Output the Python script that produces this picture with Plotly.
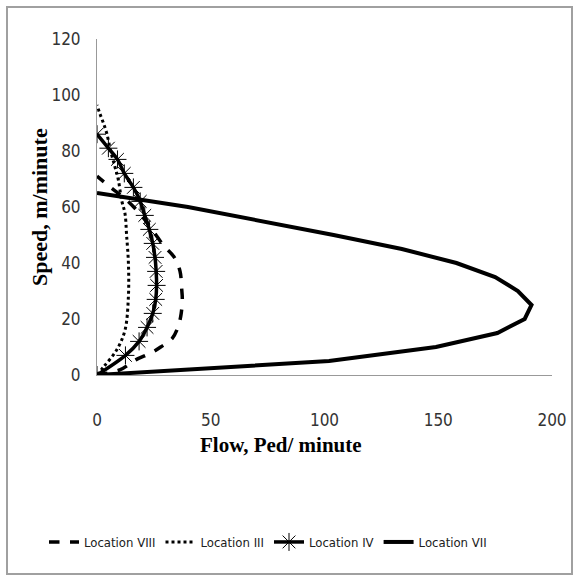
import plotly.graph_objects as go

# Location VII
vii_flow = [0, 102, 149, 176, 188, 191, 185, 175, 158, 134, 104, 73, 40, 0]
vii_speed = [0, 5, 10, 15, 20, 25, 30, 35, 40, 45, 50, 55, 60, 65]

# Location IV
iv_flow = [0, 12.5, 18.5, 22, 24.5, 25.8, 26.2, 26, 25.5, 24.5, 23, 21, 19, 16, 12, 9, 5, 0]
iv_speed = [0, 7, 12, 17, 22, 27, 32, 37, 42, 47, 52, 57, 62, 67, 72, 77, 81, 86]

# Location VIII
viii_flow = [0, 10, 17, 24, 28, 33, 35.7, 37, 37.5, 37.2, 36.5, 34, 29.5, 25, 20, 13, 6, 0]
viii_speed = [0, 1.8, 5.4, 8, 10, 13, 17.3, 22, 27, 31, 37, 42, 46, 51, 56.5, 62.5, 67, 71]

# Location III
iii_flow = [0, 3, 8.7, 12.3, 13.8, 13.8, 13, 12.3, 10.8, 9.4, 8, 6, 4.3, 2.8, 1.2, 0]
iii_speed = [0, 3, 9, 16, 28, 40, 50, 57.7, 62.5, 69.6, 74, 80, 86.3, 90, 93.5, 96.4]

x_ticks = [0, 50, 100, 150, 200]
y_ticks = [0, 20, 40, 60, 80, 100, 120]

fig = go.Figure()
fig.add_trace(go.Scatter(x=viii_flow, y=viii_speed, mode="lines", name="Location VIII",
                         line=dict(color="black", width=3.5, dash="dash", shape="spline")))
fig.add_trace(go.Scatter(x=iii_flow, y=iii_speed, mode="lines", name="Location III",
                         line=dict(color="black", width=3, dash="dot", shape="spline")))
fig.add_trace(go.Scatter(x=iv_flow, y=iv_speed, mode="lines+markers", name="Location IV",
                         line=dict(color="black", width=3.5, shape="spline"),
                         marker=dict(symbol="asterisk-open", size=15,
                                     line=dict(color="#7f7f7f", width=1))))
fig.add_trace(go.Scatter(x=vii_flow, y=vii_speed, mode="lines", name="Location VII",
                         line=dict(color="black", width=4)))

narrow = "DejaVu Sans Condensed, Liberation Sans Narrow, Roboto, sans-serif"
tickfont = dict(family=narrow, size=17, color="#333333")
serif = "Liberation Serif, Times New Roman, serif"
fig.update_layout(
    width=579, height=581,
    margin=dict(l=97, r=27, t=39, b=206),
    plot_bgcolor="white", paper_bgcolor="white",
    showlegend=True,
    legend=dict(orientation="h", xref="container", yref="container",
                x=268 / 579, xanchor="center", y=(581 - 542) / 581, yanchor="middle",
                font=dict(family=narrow, size=13, color="#202020"),
                itemwidth=30, tracegroupgap=0),
    xaxis=dict(range=[0, 200], tickvals=x_ticks, showgrid=False, zeroline=False,
               showline=True, linecolor="#999999", linewidth=1, ticks="",
               tickfont=tickfont, ticklabelstandoff=30),
    yaxis=dict(range=[0, 120], tickvals=y_ticks, showgrid=False, zeroline=False,
               showline=True, linecolor="#999999", linewidth=1, ticks="",
               tickfont=tickfont, ticklabelstandoff=12),
    annotations=[
        dict(text="<b>Speed, m/minute</b>", xref="paper", yref="paper",
             x=(39 - 97) / 455, y=(375 - 207) / 336, textangle=-90, showarrow=False,
             xanchor="center", yanchor="middle",
             font=dict(family=serif, size=22, color="black")),
        dict(text="<b>Flow, Ped/ minute</b>", xref="paper", yref="paper",
             x=(281 - 97) / 455, y=(375 - 445) / 336, showarrow=False,
             xanchor="center", yanchor="middle",
             font=dict(family=serif, size=21, color="black")),
    ],
    shapes=[dict(type="rect", xref="paper", yref="paper",
                 x0=(7 - 97) / 455, x1=(572 - 97) / 455,
                 y0=(375 - 574) / 336, y1=(375 - 7) / 336,
                 line=dict(color="#a0a0a0", width=2), layer="below")],
)
fig.write_html(
    "out.html",
    config={"displayModeBar": False},
    post_script=("document.body.style.margin='0px';"
                 "document.body.style.overflow='hidden';"
                 "document.documentElement.style.overflow='hidden';"),
)
